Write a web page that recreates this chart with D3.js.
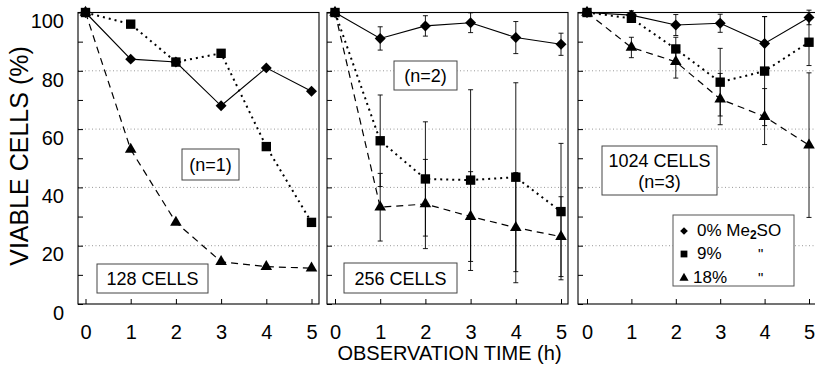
<!DOCTYPE html>
<html>
<head>
<meta charset="utf-8">
<script src="https://cdn.jsdelivr.net/npm/d3@7"></script>
<style>
  body { margin: 0; background: #fff; }
  svg { display: block; font-family: "Liberation Sans", Arial, sans-serif; }
</style>
</head>
<body>
<svg id="chart" width="815" height="375"></svg>
<script>
// data
const times = [0, 1, 2, 3, 4, 5];
const yTicks = [0, 20, 40, 60, 80, 100];
const gridVals = [20, 40, 60, 80];
const cellLabels = ["128 CELLS", "256 CELLS", "1024 CELLS"];
const nLabels = ["(n=1)", "(n=2)", "(n=3)"];
const legendLabels = ["0% Me", "9%", "18%"];

// 128 cells (n=1), no error bars
const c128_0  = [100, 84, 83, 68, 81, 73];
const c128_9  = [100, 96, 83, 86, 54, 28];
const c128_18 = [100, 53, 28, 14.5, 12.8, 12.3];

// 256 cells (n=2)
const c256_0  = [100, 91.1, 95.4, 96.5, 91.4, 89.1];
const c256_0e = [0, 4, 3.5, 3.4, 5.5, 3.8];
const c256_9  = [100, 56, 42.9, 42.5, 43.5, 31.7];
const c256_9e = [0, 15.7, 19.6, 31, 32.4, 23.4];
const c256_18  = [100, 33.2, 34.3, 30, 26.2, 23.1];
const c256_18e = [0, 11.6, 15.3, 15.4, 18.9, 13.7];

// 1024 cells (n=3)
const c1024_0  = [100, 99.1, 95.7, 96.3, 89.4, 98.3];
const c1024_0e = [0, 1.5, 3.6, 3.1, 9.2, 2.5];
const c1024_9  = [100, 98, 87.5, 76.1, 79.9, 89.8];
const c1024_9e = [0, 1, 4, 11.6, 18.7, 8];
const c1024_18  = [100, 88, 83.1, 70.3, 64.3, 54.5];
const c1024_18e = [0, 3.5, 5.6, 8.8, 9.6, 24.8];

const panels = [
  {vals: [c128_0, c128_9, c128_18], errs: null},
  {vals: [c256_0, c256_9, c256_18], errs: [c256_0e, c256_9e, c256_18e]},
  {vals: [c1024_0, c1024_9, c1024_18], errs: [c1024_0e, c1024_9e, c1024_18e]}
];

const svg = d3.select("#chart");
const plotTop = 12.5, plotBottom = 304, panelW = 241;
const panelLeft = [78, 327, 578];
const xRanges = [[85.5, 311.5], [335, 561], [587, 809]];

const y = d3.scaleLinear().domain([0, 100]).range([plotBottom, plotTop]);

// marker shapes per series
const markers = [
  {type: d3.symbolSquare, size: 60, rot: 45, lsize: 30},
  {type: d3.symbolSquare, size: 88, rot: 0, lsize: 46},
  {type: d3.symbolTriangle, size: 58, rot: 0, lsize: 36}
];
const dashes = [null, "2,4", "7,5"];
const widths = [1.1, 2, 1.2];

panels.forEach(function(p, i) {
  const left = panelLeft[i];
  const x = d3.scaleLinear().domain([0, 5]).range(xRanges[i]);
  const g = svg.append("g");

  // dotted gridlines
  g.selectAll(".grid")
    .data(gridVals)
    .enter().append("line")
    .attr("x1", left).attr("x2", left + panelW)
    .attr("y1", d => y(d)).attr("y2", d => y(d))
    .attr("stroke", "#999").attr("stroke-width", 1)
    .attr("stroke-dasharray", "1,2.5");

  // frame
  g.append("rect")
    .attr("x", left).attr("y", plotTop)
    .attr("width", panelW).attr("height", plotBottom - plotTop)
    .attr("fill", "none").attr("stroke", "#000").attr("stroke-width", 1.1);

  // x axis, inward ticks
  const xAxis = d3.axisBottom(x).tickValues(times).tickSize(-5).tickPadding(21)
    .tickFormat(d3.format("d"));
  const xg = g.append("g")
    .attr("transform", `translate(0,${plotBottom})`)
    .call(xAxis);
  xg.select(".domain").remove();
  xg.selectAll("text").attr("font-size", 20).attr("font-family", null).attr("fill", "#000");

  // y axis, inward ticks
  const yAxis = d3.axisLeft(y).tickValues(d3.range(0, 101, 10)).tickSize(-5).tickPadding(14)
    .tickFormat(d => (i === 0 && yTicks.includes(d)) ? d : "");
  const yg = g.append("g")
    .attr("transform", `translate(${left},0)`)
    .call(yAxis);
  yg.select(".domain").remove();
  yg.selectAll("text").attr("font-size", 20).attr("font-family", null)
    .attr("dy", "0.76em").attr("fill", "#000");

  // text boxes (white, interrupt gridlines)
  function box(x0, y0, w, h, lines) {
    g.append("rect").attr("x", x0).attr("y", y0).attr("width", w).attr("height", h)
      .attr("fill", "#fff").attr("stroke", "#444").attr("stroke-width", 1);
    lines.forEach(function(l) {
      g.append("text").attr("x", x0 + w / 2).attr("y", l[1])
        .attr("text-anchor", "middle").attr("font-size", 18).text(l[0]);
    });
  }
  if (i === 0) {
    box(182, 149, 57, 31, [[nLabels[0], 171]]);
    box(97, 264, 111, 29, [[cellLabels[0], 285]]);
  } else if (i === 1) {
    box(394, 61, 63, 29, [[nLabels[1], 82]]);
    box(344, 263, 113, 30, [[cellLabels[1], 285]]);
  } else {
    box(602, 146, 115, 49, [[cellLabels[2], 167], [nLabels[2], 188]]);
  }

  // lines
  const line = d3.line().x((d, k) => x(times[k])).y(d => y(d));
  p.vals.forEach(function(v, s) {
    g.append("path")
      .datum(v)
      .attr("d", line)
      .attr("fill", "none")
      .attr("stroke", "#000")
      .attr("stroke-width", widths[s])
      .attr("stroke-dasharray", dashes[s]);
  });

  // error bars
  if (p.errs) {
    p.errs.forEach(function(e, s) {
      const pts = times.map((t, k) => ({t: t, v: p.vals[s][k], e: e[k]})).filter(d => d.e > 0);
      g.selectAll(".eb" + s)
        .data(pts)
        .enter().append("line")
        .attr("x1", d => x(d.t)).attr("x2", d => x(d.t))
        .attr("y1", d => y(d.v + d.e)).attr("y2", d => y(d.v - d.e))
        .attr("stroke", "#000").attr("stroke-width", 0.9);
      [1, -1].forEach(function(sg) {
        g.selectAll(".ec" + s + sg)
          .data(pts)
          .enter().append("line")
          .attr("x1", d => x(d.t) - 2.5).attr("x2", d => x(d.t) + 2.5)
          .attr("y1", d => y(d.v + sg * d.e)).attr("y2", d => y(d.v + sg * d.e))
          .attr("stroke", "#000").attr("stroke-width", 0.9);
      });
    });
  }

  // markers
  p.vals.forEach(function(v, s) {
    const m = markers[s];
    g.selectAll(".m" + s)
      .data(v)
      .enter().append("path")
      .attr("d", d3.symbol().type(m.type).size(m.size))
      .attr("transform", (d, k) => `translate(${x(times[k])},${y(d)}) rotate(${m.rot})`)
      .attr("fill", "#000");
  });
});

// legend in third panel
const lg = svg.append("g");
lg.append("rect").attr("x", 673).attr("y", 215).attr("width", 121).attr("height", 71)
  .attr("fill", "#fff").attr("stroke", "#555").attr("stroke-width", 1);
const legendY = [231, 254, 278];
legendLabels.forEach(function(lbl, s) {
  const m = markers[s];
  lg.append("path")
    .attr("d", d3.symbol().type(m.type).size(m.lsize))
    .attr("transform", `translate(684,${legendY[s]}) rotate(${m.rot})`)
    .attr("fill", "#000");
  const t = lg.append("text").attr("x", s === 2 ? 693 : 697).attr("y", legendY[s] + 5)
    .attr("font-size", 17);
  t.append("tspan").text(lbl);
  if (s === 0) {
    t.append("tspan").attr("font-size", 12).attr("font-weight", "bold").attr("dy", 3).text("2");
    t.append("tspan").attr("dy", -3).text("SO");
  } else {
    lg.append("text").attr("x", 758).attr("y", legendY[s] + 5)
      .attr("font-size", 15).text("\"");
  }
});

// axis titles
svg.append("text")
  .attr("transform", "translate(28,156) rotate(-90)")
  .attr("text-anchor", "middle")
  .attr("font-size", 25)
  .text("VIABLE CELLS (%)");

svg.append("text")
  .attr("x", 449.5).attr("y", 360)
  .attr("text-anchor", "middle")
  .attr("font-size", 20)
  .text("OBSERVATION TIME (h)");
</script>
</body>
</html>
